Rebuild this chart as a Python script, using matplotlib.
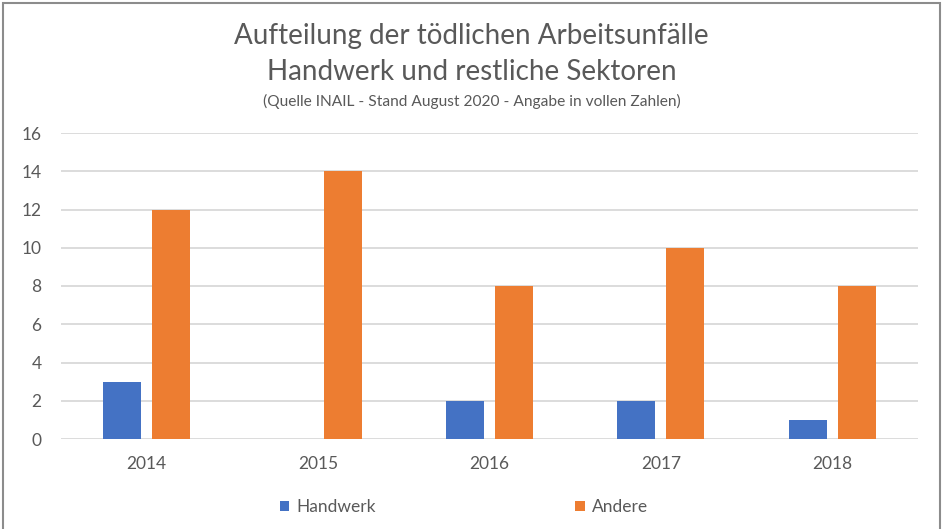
import matplotlib
matplotlib.use("Agg")
import matplotlib.pyplot as plt
import numpy as np
from matplotlib.patches import Rectangle

years = ["2014", "2015", "2016", "2017", "2018"]
handwerk = [3, 0, 2, 2, 1]
andere = [12, 14, 8, 10, 8]
yticks = [0, 2, 4, 6, 8, 10, 12, 14, 16]

title1 = "Aufteilung der tödlichen Arbeitsunfälle"
title2 = "Handwerk und restliche Sektoren"
subtitle = "(Quelle INAIL - Stand August 2020 - Angabe in vollen Zahlen)"

plt.rcParams['font.family'] = ['Lato', 'DejaVu Sans']
gray = "#595959"
blue = "#4472C4"
orange = "#ED7D31"

fig = plt.figure(figsize=(9.43, 5.29), dpi=100)
ax = fig.add_axes([61/943, 1-439/529, (918-61)/943, (439-133)/529])

x = np.arange(len(years))
w = 0.222
off = 0.143
ax.bar(x - off, handwerk, w, color=blue, label="Handwerk", zorder=3)
ax.bar(x + off, andere, w, color=orange, label="Andere", zorder=3)

ax.set_xlim(-0.5, len(years) - 0.5)
ax.set_ylim(0, 16)
ax.set_yticks(yticks)
ax.set_xticks(x)
ax.set_xticklabels(years)
ax.grid(axis='y', color="#d9d9d9", linewidth=1.3, zorder=0)
for s in ax.spines.values():
    s.set_visible(False)
ax.tick_params(axis='both', length=0, colors=gray, labelsize=12.5)
ax.tick_params(axis='y', pad=14)
ax.tick_params(axis='x', pad=12)

fig.text(0.5, 1-36/529, title1, ha='center', va='center', fontsize=20, color=gray)
fig.text(0.5, 1-72/529, title2, ha='center', va='center', fontsize=20, color=gray)
fig.text(0.5, 1-101/529, subtitle, ha='center', va='center', fontsize=11.2, color=gray)

leg = fig.legend(loc='center', bbox_to_anchor=(0.492, 1-507/529), ncol=2, frameon=False,
                 fontsize=12.5, handlelength=0.55, handleheight=0.55, handletextpad=0.4,
                 columnspacing=11.5, labelcolor=gray)

fig.add_artist(Rectangle((3/943, -0.05), (940-3)/943, 1.05 - 3/529, transform=fig.transFigure,
                         fill=False, edgecolor="#8c8c8c", linewidth=1.5))

fig.savefig("out.png", dpi=100)
